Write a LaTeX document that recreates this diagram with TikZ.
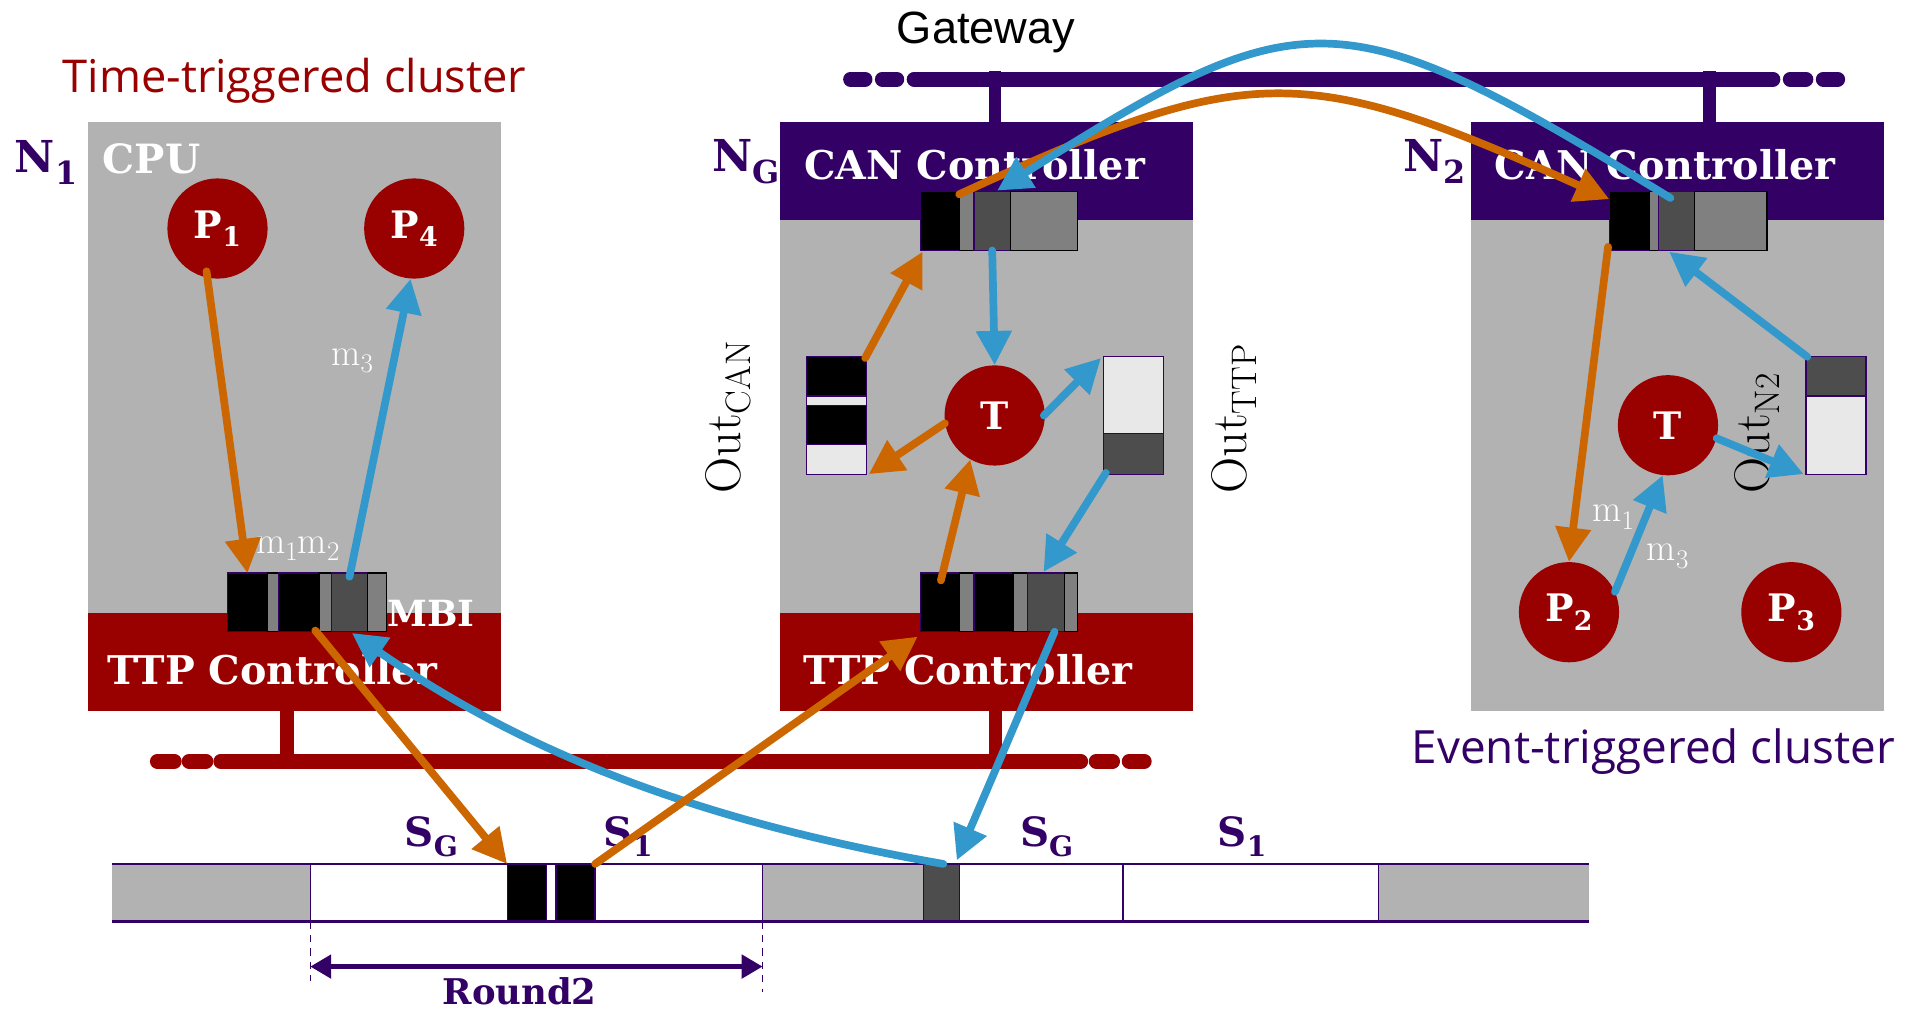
\documentclass[tikz,border=0pt]{standalone}
\usepackage{fontspec}
\usetikzlibrary{arrows.meta,calc}
\newfontfamily\clusterfont{Open Sans}
\newfontfamily\gwfont{Liberation Sans}
\newfontfamily\bsf{DejaVu Serif}
\definecolor{grayb}{HTML}{B2B2B2}
\definecolor{dred}{HTML}{990000}
\definecolor{purp}{HTML}{330066}
\definecolor{oran}{HTML}{CC6600}
\definecolor{blu}{HTML}{3399CC}
\definecolor{dgray}{HTML}{4D4D4D}
\definecolor{mgray}{HTML}{808080}
\definecolor{lgray}{HTML}{E8E8E8}
\newcommand\fsz[1]{\fontsize{#1}{#1}\selectfont}
\newcommand\lowtxt[3]{\raisebox{-#1pt}{\fontsize{#2}{#2}\selectfont #3}}
\begin{document}
\begin{tikzpicture}[x=1pt,y=-1pt,
  seg/.style={draw=purp,line width=1pt,inner sep=0pt,outer sep=0pt,anchor=north west,minimum height=48pt},
  vseg/.style={draw=purp,line width=1pt,inner sep=0pt,outer sep=0pt,anchor=north west,minimum width=49pt},
  boxn/.style={inner sep=0pt,outer sep=0pt,anchor=north west,minimum width=338pt},
  proc/.style={circle,fill=dred,minimum size=82pt,inner sep=0pt,text=white,font=\bsf\bfseries\fsz{31}},
  lbl/.style={inner sep=0pt,anchor=base west},
  wlbl/.style={inner sep=0pt,anchor=base west,text=white,font=\bsf\bfseries\fsz{32.4}},
  arrO/.style={draw=oran,line width=6.3pt,line cap=round,-{Triangle[length=28pt,width=28pt]}},
  arrB/.style={draw=blu,line width=6.3pt,line cap=round,-{Triangle[length=28pt,width=28pt]}},
  bus/.style={line width=12pt,line cap=round},
  stub/.style={line width=11pt},
]
\useasboundingbox (0,0) rectangle (1568,828);
\fill[white] (0,0) rectangle (1568,828);

% titles
\node[inner sep=0pt,anchor=base,text=dred,font=\clusterfont\fsz{37}] (ttl1) at (241,75.5) {Time-triggered cluster};
\node[inner sep=0pt,anchor=base,text=purp,font=\clusterfont\fsz{37.5}] (ttl2) at (1353,624.5) {Event-triggered cluster};
\node[inner sep=0pt,anchor=base,text=black,font=\gwfont\fsz{37}] (gw) at (807,35.5) {Gateway};

% gateway bus
\draw[bus,purp] (696,64.8) -- (708,64.8);
\draw[bus,purp] (722,64.8) -- (734,64.8);
\draw[bus,purp] (748,64.8) -- (1451,64.8);
\draw[bus,purp] (1465,64.8) -- (1478,64.8);
\draw[bus,purp] (1492,64.8) -- (1504,64.8);
\draw[stub,purp,line width=10pt] (814.5,58) -- (814.5,100);
\draw[stub,purp,line width=10pt] (1399,58) -- (1399,100);

% TTP bus
\draw[bus,dred] (128.7,623) -- (142.7,623);
\draw[bus,dred] (154.7,623) -- (168.6,623);
\draw[bus,dred] (180.6,623) -- (884.5,623);
\draw[bus,dred] (897,623) -- (910.6,623);
\draw[bus,dred] (924,623) -- (936.5,623);
\draw[stub,dred] (235,580) -- (235,623);
\draw[stub,dred] (814.5,580) -- (814.5,623);

% node boxes
\node[boxn,fill=grayb,minimum height=482pt] (n1) at (72,100) {};
\node[boxn,fill=dred,minimum height=80pt] (n1t) at (72,502) {};
\node[boxn,fill=grayb,minimum height=482pt] (ng) at (638,100) {};
\node[boxn,fill=purp,minimum height=80pt] (ngc) at (638,100) {};
\node[boxn,fill=dred,minimum height=80pt] (ngt) at (638,502) {};
\node[boxn,fill=grayb,minimum height=482pt] (n2) at (1204,100) {};
\node[boxn,fill=purp,minimum height=80pt] (n2c) at (1204,100) {};

% node names
\node[lbl,text=purp,font=\bsf\bfseries\fsz{36}] (ln1) at (12,141) {N\lowtxt{10}{26}{1}};
\node[lbl,text=purp,font=\bsf\bfseries\fsz{36}] (lng) at (583,140) {N\lowtxt{10}{26}{G}};
\node[lbl,text=purp,font=\bsf\bfseries\fsz{36}] (ln2) at (1148,140) {N\lowtxt{10}{26}{2}};

% band labels
\node[wlbl,font=\bsf\bfseries\fsz{33}] (cpu) at (84,142) {CPU};
\node[wlbl] (ttp1) at (88,560) {TTP Controller};
\node[wlbl,font=\bsf\bfseries\fsz{29.5}] (mbi) at (317,513) {MBI};
\node[wlbl] (cang) at (658,146.5) {CAN Controller};
\node[wlbl] (ttpg) at (657,560) {TTP Controller};
\node[wlbl] (can2) at (1223,146.5) {CAN Controller};

% processes
\node[proc] (p1) at (178,187) {P\lowtxt{7}{22}{1}};
\node[proc] (p4) at (339,187) {P\lowtxt{7}{22}{4}};
\node[proc] (tg) at (814,340) {T};
\node[proc] (t2) at (1365,348) {T};
\node[proc] (p2) at (1284,501) {P\lowtxt{7}{22}{2}};
\node[proc] (p3) at (1466,501) {P\lowtxt{7}{22}{3}};

% N1 MBI buffer
\node[seg,fill=black,minimum width=33pt] (b1a) at (186,469) {};
\node[seg,fill=mgray,draw=black,minimum width=9pt] (b1b) at (219,469) {};
\node[seg,fill=black,minimum width=33pt] (b1c) at (228,469) {};
\node[seg,fill=mgray,draw=black,minimum width=10pt] (b1d) at (261,469) {};
\node[seg,fill=dgray,minimum width=30pt] (b1e) at (271,469) {};
\node[seg,fill=mgray,draw=black,minimum width=15pt] (b1f) at (301,469) {};

% NG CAN buffer
\node[seg,fill=black,minimum width=32pt] (ca) at (753,157) {};
\node[seg,fill=mgray,draw=black,minimum width=12pt] (cb) at (785,157) {};
\node[seg,fill=dgray,minimum width=30pt] (cc) at (797,157) {};
\node[seg,fill=mgray,draw=black,minimum width=55pt] (cd) at (827,157) {};

% NG TTP buffer
\node[seg,fill=black,minimum width=32pt] (ta) at (753,469) {};
\node[seg,fill=mgray,draw=black,minimum width=12pt] (tb) at (785,469) {};
\node[seg,fill=black,minimum width=32pt] (tc) at (797,469) {};
\node[seg,fill=mgray,draw=black,minimum width=12pt] (td) at (829,469) {};
\node[seg,fill=dgray,minimum width=30pt] (te) at (841,469) {};
\node[seg,fill=mgray,draw=black,minimum width=11pt] (tf) at (871,469) {};

% N2 CAN buffer
\node[seg,fill=black,minimum width=33pt] (na) at (1317,157) {};
\node[seg,fill=mgray,draw=black,minimum width=7pt] (nb) at (1350,157) {};
\node[seg,fill=dgray,minimum width=30pt] (nc) at (1357,157) {};
\node[seg,fill=mgray,draw=black,minimum width=59pt] (nd) at (1387,157) {};

% Out_CAN buffer
\node[vseg,fill=black,minimum height=32pt] (oa) at (660,292) {};
\node[vseg,fill=lgray,minimum height=8pt] (ob) at (660,324) {};
\node[vseg,fill=black,minimum height=32pt] (oc) at (660,332) {};
\node[vseg,fill=lgray,minimum height=24pt] (od) at (660,364) {};
% Out_TTP buffer
\node[vseg,fill=lgray,minimum height=63pt] (pa) at (903,292) {};
\node[vseg,fill=dgray,minimum height=33pt] (pb) at (903,355) {};
% Out_N2 buffer
\node[vseg,fill=dgray,minimum height=32pt] (qa) at (1478,292) {};
\node[vseg,fill=lgray,minimum height=64pt] (qb) at (1478,324) {};

% rotated labels
\node[lbl,rotate=90,font=\fsz{41}] (outcan) at (606,404) {Out\lowtxt{8}{29}{CAN}};
\node[lbl,rotate=90,font=\fsz{41}] (outttp) at (1020,404) {Out\lowtxt{8}{29}{TTP}};
\node[lbl,rotate=90,font=\fsz{41}] (outn2) at (1448,404) {Out\lowtxt{8}{29}{N2}};

% message labels
\node[lbl,text=white,font=\fsz{31}] (m12) at (209.5,453) {m\lowtxt{6}{22}{1}m\lowtxt{6}{22}{2}};
\node[lbl,text=white,font=\fsz{31}] (m3a) at (271,299) {m\lowtxt{6}{22}{3}};
\node[lbl,text=white,font=\fsz{31}] (m1b) at (1303,427) {m\lowtxt{6}{22}{1}};
\node[lbl,text=white,font=\fsz{31}] (m3b) at (1347.5,459) {m\lowtxt{6}{22}{3}};

% timeline
\fill[grayb] (92,707) rectangle (254,754);
\fill[grayb] (624,707) rectangle (756,754);
\fill[grayb] (1128,707) rectangle (1300,754);
\node[seg,fill=black,minimum width=32pt,minimum height=47pt] (k1) at (415,707) {};
\node[seg,fill=black,minimum width=32pt,minimum height=47pt] (k2) at (455,707) {};
\node[seg,fill=dgray,minimum width=29pt,minimum height=47pt] (kd) at (756,707) {};
\draw[purp,line width=2pt] (92,707) -- (1300,707);
\draw[purp,line width=2pt] (92,754) -- (1300,754);
\foreach \xx in {254,624,919,1128} \draw[purp,line width=1.2pt] (\xx,707) -- (\xx,754);
\node[lbl,text=purp,font=\bsf\bfseries\fsz{33}] (sg1) at (331,693) {S\lowtxt{8}{23}{G}};
\node[lbl,text=purp,font=\bsf\bfseries\fsz{33}] (s11) at (494,693) {S\lowtxt{8}{23}{1}};
\node[lbl,text=purp,font=\bsf\bfseries\fsz{33}] (sg2) at (834.6,693) {S\lowtxt{8}{23}{G}};
\node[lbl,text=purp,font=\bsf\bfseries\fsz{33}] (s12) at (996.4,693) {S\lowtxt{8}{23}{1}};
\coordinate (ra) at (254,791);
\coordinate (rb) at (624,791);
\draw[purp,line width=1.2pt,dash pattern=on 6pt off 5pt] (254,754) -- (254,803);
\draw[purp,line width=1.2pt,dash pattern=on 6pt off 5pt] (624,754) -- (624,812);
\draw[purp,line width=3.5pt,{Triangle[length=17pt,width=19pt]}-{Triangle[length=17pt,width=19pt]}] (ra) -- (rb);
\node[lbl,text=purp,font=\bsf\bfseries\fsz{29}] (rnd) at (362,822) {Round2};

% arrows N1
\draw[arrO] ($(p1.center)+(-9,35)$) -- (b1a.north);
\draw[arrB] ($(b1e.north)+(0,3)$) -- ($(p4.south)+(-3,0)$);
\draw[arrO] ($(b1c.south east)+(-3,-1)$) -- (k1.north west);
\draw[arrB] ($(kd.north)+(1.5,0)$) .. controls (560,670) and (420,610) .. ($(b1e.south)+(2,1)$);
% arrows NG
\draw[arrO] (k2.north east) -- ($(ta.south west)+(-2,4)$);
\draw[arrB] ($(te.south)+(7,0)$) -- ($(kd.north east)+(-2,-3)$);
\draw[arrO] ($(oa.north east)+(-1,1)$) -- ($(ca.south west)+(2,1)$);
\draw[arrB] (cc.south) -- (tg.north);
\draw[arrO] (tg.189) -- ($(od.south east)+(2,0)$);
\draw[arrB] ($(tg.east)+(-1,0)$) -- ($(pa.north west)+(-2,1)$);
\draw[arrO] ($(ta.north)+(1,6)$) -- (tg.241);
\draw[arrB] ($(pb.south west)+(2,-1)$) -- ($(te.north)+(-2,-1)$);
% gateway curves
\draw[arrO] ($(ca.north east)+(0,2)$) .. controls (1022,50) and (1066,50) .. ($(na.north west)+(0,6)$);
\draw[arrB] ($(nc.north)+(-5,5)$) .. controls (1097,-3) and (1068,-3) .. ($(cc.north)+(4,-1)$);
% arrows N2
\draw[arrO] ($(na.south west)+(-1,-3)$) -- (p2.north);
\draw[arrB] ($(qa.north west)+(1,0)$) -- ($(nc.south)+(-6,1)$);
\draw[arrB] (t2.-15) -- ($(qb.south west)+(-2,0)$);
\draw[arrB] (p2.24) -- (t2.264);
\end{tikzpicture}
\end{document}
